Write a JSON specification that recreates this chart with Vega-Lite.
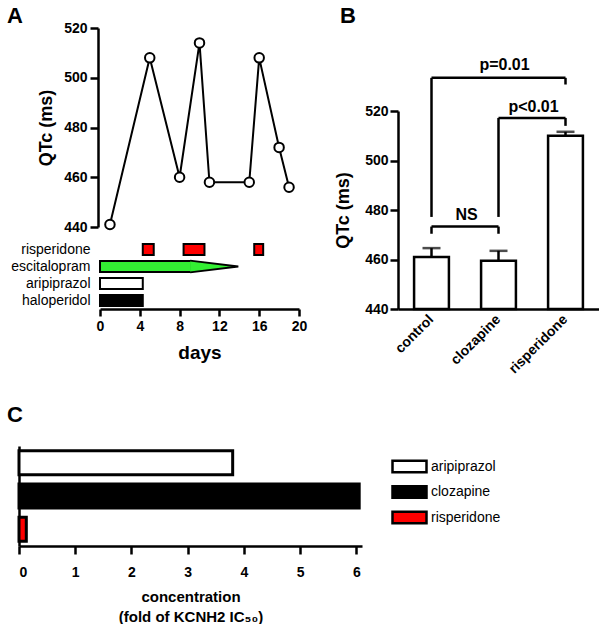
{
  "$schema": "https://vega.github.io/schema/vega-lite/v6.json",
  "padding": {"left": 7, "top": 5, "right": 0, "bottom": 0},
  "background": "white",
  "config": {
    "font": "Liberation Sans",
    "view": {"stroke": null},
    "axis": {
      "grid": false,
      "domainColor": "black", "domainWidth": 2.5,
      "tickColor": "black", "tickWidth": 2.5,
      "labelColor": "black", "labelFont": "Liberation Sans", "labelFontWeight": "bold", "labelFontSize": 14,
      "titleColor": "black", "titleFont": "Liberation Sans", "titleFontWeight": "bold"
    },
    "title": {"font": "Liberation Sans", "fontSize": 22, "fontWeight": "bold", "color": "black", "anchor": "start", "frame": "group", "baseline": "alphabetic"},
    "text": {"font": "Liberation Sans"},
    "legend": {"labelFont": "Liberation Sans"}
  },
  "resolve": {"scale": {"color": "independent", "fill": "independent"}, "legend": {"color": "independent", "fill": "independent"}},
  "spacing": 28,
  "vconcat": [
    {
      "spacing": -13,
      "hconcat": [
        {"width": 1, "height": 1, "data": {"values": []}, "mark": "point", "encoding": {}},
        {
          "spacing": 27,
          "hconcat": [
            {
              "spacing": 14,
              "bounds": "flush",
              "vconcat": [
                {
                  "width": 199, "height": 199,
                  "title": {"text": "A", "dx": -93, "offset": -7},
                  "data": {"values": [
                    {"day": 1, "qtc": 441}, {"day": 5, "qtc": 508}, {"day": 8, "qtc": 460},
                    {"day": 10, "qtc": 514}, {"day": 11, "qtc": 458}, {"day": 15, "qtc": 458},
                    {"day": 16, "qtc": 508}, {"day": 18, "qtc": 472}, {"day": 19, "qtc": 456}
                  ]},
                  "layer": [
                    {
                      "mark": {"type": "line", "color": "black", "strokeWidth": 2},
                      "encoding": {
                        "x": {"field": "day", "type": "quantitative", "scale": {"domain": [0, 20]}, "axis": null},
                        "y": {"field": "qtc", "type": "quantitative", "scale": {"domain": [440, 520]}, "title": "QTc (ms)",
                          "axis": {"values": [440, 460, 480, 500, 520], "tickSize": 8, "labelPadding": 3, "titleFontSize": 18, "titlePadding": 8, "offset": 2}}
                      }
                    },
                    {
                      "mark": {"type": "point", "shape": "circle", "filled": true, "fill": "white", "stroke": "black", "strokeWidth": 2, "size": 90, "opacity": 1},
                      "encoding": {
                        "x": {"field": "day", "type": "quantitative", "scale": {"domain": [0, 20]}, "axis": null},
                        "y": {"field": "qtc", "type": "quantitative", "scale": {"domain": [440, 520]}, "title": "QTc (ms)",
                          "axis": {"values": [440, 460, 480, 500, 520], "tickSize": 8, "labelPadding": 3, "titleFontSize": 18, "titlePadding": 8, "offset": 2}}
                      }
                    }
                  ]
                },
                {
                  "width": 199, "height": 68,
                  "layer": [
                    {
                      "data": {"values": [
                        {"drug": "risperidone", "start": 4.3, "end": 5.4},
                        {"drug": "risperidone", "start": 8.4, "end": 10.5},
                        {"drug": "risperidone", "start": 15.5, "end": 16.4},
                        {"drug": "escitalopram", "start": 0, "end": 9.2},
                        {"drug": "aripiprazol", "start": 0, "end": 4.3},
                        {"drug": "haloperidol", "start": 0, "end": 4.3}
                      ]},
                      "mark": {"type": "bar", "stroke": "black", "strokeWidth": 2, "opacity": 1},
                      "encoding": {
                        "x": {"field": "start", "type": "quantitative", "scale": {"domain": [0, 20]}, "title": "days",
                          "axis": {"values": [0, 4, 8, 12, 16, 20], "tickSize": 7, "labelPadding": 3, "labelOverlap": false, "labelFlush": false, "titleFontSize": 19, "titlePadding": 10}},
                        "x2": {"field": "end"},
                        "y": {"field": "drug", "type": "nominal", "title": null,
                          "scale": {"domain": ["risperidone", "escitalopram", "aripiprazol", "haloperidol"], "paddingInner": 0.35, "paddingOuter": 0.175},
                          "axis": {"domain": false, "ticks": false, "labelPadding": 10, "labelFontWeight": "normal", "labelFontSize": 14}},
                        "color": {"field": "drug", "type": "nominal",
                          "scale": {"domain": ["risperidone", "escitalopram", "aripiprazol", "haloperidol"], "range": ["#ff0000", "#33ee33", "#ffffff", "#000000"]},
                          "legend": null}
                      }
                    },
                    {
                      "data": {"values": [{"drug": "escitalopram", "taperEnd": 13.9}]},
                      "mark": {"type": "point", "shape": "M-2.05,-0.25L0,0L-2.05,0.25", "size": 2209, "filled": true, "fill": "#33ee33", "stroke": "black", "strokeWidth": 2, "opacity": 1},
                      "encoding": {
                        "x": {"field": "taperEnd", "type": "quantitative", "scale": {"domain": [0, 20]}, "title": "days",
                          "axis": {"values": [0, 4, 8, 12, 16, 20], "tickSize": 7, "labelPadding": 3, "labelOverlap": false, "labelFlush": false, "titleFontSize": 19, "titlePadding": 10}},
                        "y": {"field": "drug", "type": "nominal", "title": null,
                          "axis": {"domain": false, "ticks": false, "labelPadding": 10, "labelFontWeight": "normal", "labelFontSize": 14}}
                      }
                    }
                  ]
                }
              ]
            },
            {
              "spacing": 0,
              "bounds": "flush",
              "vconcat": [
                {
                  "width": 201, "height": 83,
                  "title": {"text": "B", "dx": -58, "offset": 0},
                  "data": {"values": []}, "mark": "point", "encoding": {}
                },
                {
                  "width": 201, "height": 198,
                  "layer": [
                    {
                      "data": {"values": [
                        {"group": "control", "qtc": 461, "sem": 3.6},
                        {"group": "clozapine", "qtc": 459.5, "sem": 4},
                        {"group": "risperidone", "qtc": 510, "sem": 1.6}
                      ]},
                      "layer": [
                        {
                          "mark": {"type": "errorbar", "ticks": {"size": 18, "thickness": 2.5, "color": "black"}, "rule": {"strokeWidth": 2.5, "color": "black"}},
                          "encoding": {
                            "x": {"field": "group", "type": "nominal", "title": null},
                            "y": {"field": "qtc", "type": "quantitative", "scale": {"domain": [440, 520]}, "title": "QTc (ms)"},
                            "yError": {"field": "sem"}
                          }
                        },
                        {
                          "mark": {"type": "bar", "fill": "white", "stroke": "black", "strokeWidth": 2.5},
                          "encoding": {
                            "x": {"field": "group", "type": "nominal", "title": null,
                              "scale": {"domain": ["control", "clozapine", "risperidone"], "paddingInner": 0.48, "paddingOuter": 0.24},
                              "axis": {"ticks": false, "labelAngle": -45, "labelAlign": "right", "labelBaseline": "middle", "labelPadding": 8, "labelFontSize": 14}},
                            "y": {"field": "qtc", "type": "quantitative", "scale": {"domain": [440, 520]}, "title": "QTc (ms)",
                              "axis": {"values": [440, 460, 480, 500, 520], "tickSize": 8, "labelPadding": 2, "titleFontSize": 18, "titlePadding": 12}},
                            "y2": {"datum": 440}
                          }
                        }
                      ]
                    },
                    {
                      "data": {"values": [
                        {"from": "control", "to": "risperidone", "level": 533.4},
                        {"from": "clozapine", "to": "risperidone", "level": 517.2},
                        {"from": "control", "to": "clozapine", "level": 473.3}
                      ]},
                      "mark": {"type": "rule", "color": "black", "strokeWidth": 2.5},
                      "encoding": {
                        "x": {"field": "from", "type": "nominal", "title": null},
                        "x2": {"field": "to"},
                        "y": {"field": "level", "type": "quantitative", "scale": {"domain": [440, 520]}, "title": "QTc (ms)"}
                      }
                    },
                    {
                      "data": {"values": [
                        {"group": "control", "top": 533.4, "bottom": 477.2},
                        {"group": "risperidone", "top": 533.4, "bottom": 530.7},
                        {"group": "clozapine", "top": 517.2, "bottom": 477.2},
                        {"group": "risperidone", "top": 517.2, "bottom": 514},
                        {"group": "control", "top": 473.3, "bottom": 470.4},
                        {"group": "clozapine", "top": 473.3, "bottom": 470.4}
                      ]},
                      "mark": {"type": "rule", "color": "black", "strokeWidth": 2.5},
                      "encoding": {
                        "x": {"field": "group", "type": "nominal", "title": null},
                        "y": {"field": "top", "type": "quantitative", "scale": {"domain": [440, 520]}, "title": "QTc (ms)"},
                        "y2": {"field": "bottom"}
                      }
                    },
                    {
                      "data": {"values": [
                        {"group": "control", "label": "NS", "level": 476},
                        {"group": "clozapine", "label": "p<0.01", "level": 519.6}
                      ]},
                      "mark": {"type": "text", "fontSize": 16, "fontWeight": "bold", "color": "black", "align": "center", "baseline": "alphabetic", "dx": 35},
                      "encoding": {
                        "x": {"field": "group", "type": "nominal", "title": null},
                        "y": {"field": "level", "type": "quantitative", "scale": {"domain": [440, 520]}, "title": "QTc (ms)"},
                        "text": {"field": "label"}
                      }
                    },
                    {
                      "data": {"values": [
                        {"group": "clozapine", "label": "p=0.01", "level": 536.4}
                      ]},
                      "mark": {"type": "text", "fontSize": 16, "fontWeight": "bold", "color": "black", "align": "center", "baseline": "alphabetic", "dx": 6},
                      "encoding": {
                        "x": {"field": "group", "type": "nominal", "title": null},
                        "y": {"field": "level", "type": "quantitative", "scale": {"domain": [440, 520]}, "title": "QTc (ms)"},
                        "text": {"field": "label"}
                      }
                    }
                  ]
                }
              ]
            }
          ]
        }
      ]
    },
    {
      "width": 343, "height": 100,
      "title": {"text": "C", "dx": -12, "offset": 19},
      "data": {"values": [
        {"drug": "aripiprazol", "conc": 3.8},
        {"drug": "clozapine", "conc": 6.05},
        {"drug": "risperidone", "conc": 0.13}
      ]},
      "mark": {"type": "bar", "stroke": "black", "strokeWidth": 3, "opacity": 1},
      "encoding": {
        "y": {"field": "drug", "type": "nominal", "sort": null, "title": null,
          "scale": {"paddingInner": 0.28, "paddingOuter": 0.14},
          "axis": {"labels": false, "ticks": false, "domain": true}},
        "x": {"field": "conc", "type": "quantitative", "scale": {"domain": [0, 6.1]}, "title": ["concentration", "(fold of KCNH2 IC₅₀)"],
          "axis": {"values": [0, 1, 2, 3, 4, 5, 6], "tickSize": 8, "labelPadding": 11, "labelOverlap": false, "titleFontSize": 15, "titleLineHeight": 20, "titlePadding": 10}},
        "fill": {"field": "drug", "type": "nominal",
          "scale": {"domain": ["aripiprazol", "clozapine", "risperidone"], "range": ["#ffffff", "#000000", "#ff0000"]},
          "legend": {"title": null, "orient": "none", "legendX": 380.5, "legendY": 10.5, "padding": 0,
            "symbolType": "M-2,-0.69H2V0.69H-2Z", "symbolSize": 289, "symbolStrokeColor": "black", "symbolStrokeWidth": 2.5, "symbolOpacity": 1,
            "labelFontSize": 14, "labelColor": "black", "labelOffset": 11.5, "rowPadding": 3.5}}
      }
    }
  ]
}
